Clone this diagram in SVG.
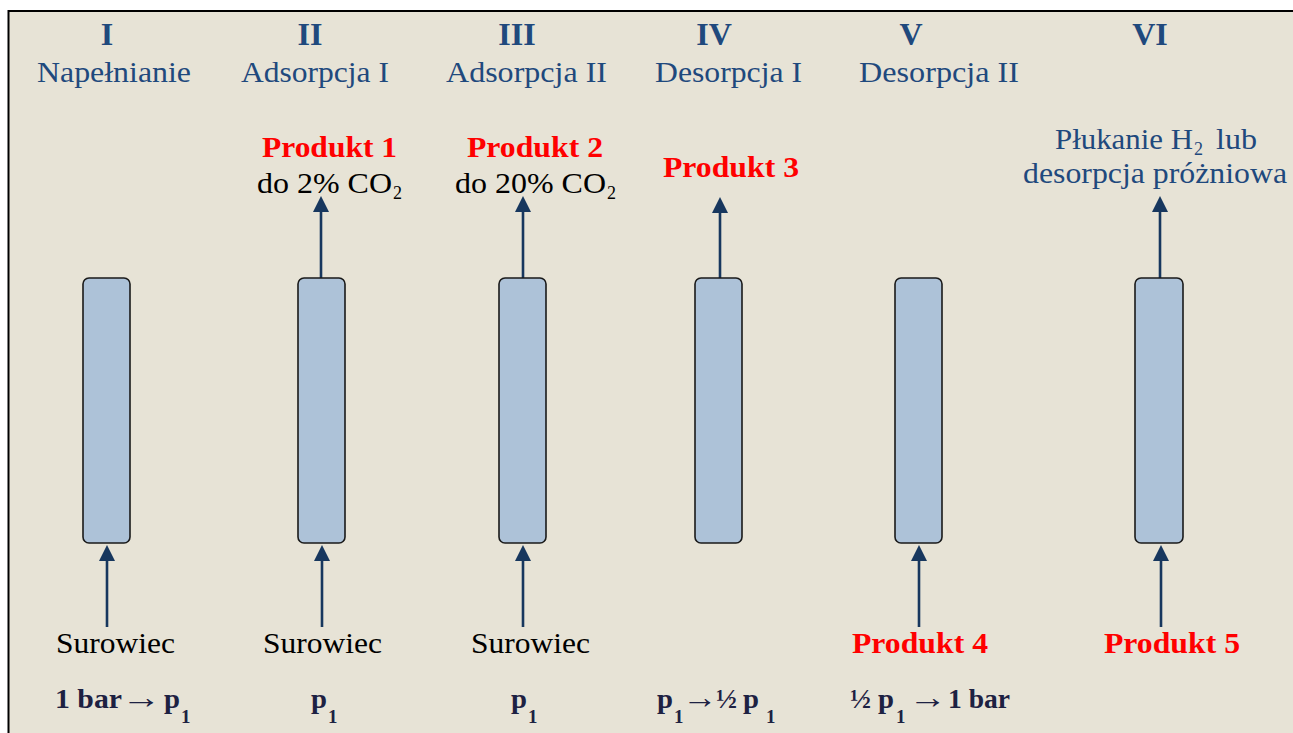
<svg xmlns="http://www.w3.org/2000/svg" width="1293" height="733" viewBox="0 0 1293 733" font-family="'Liberation Serif','Times New Roman',serif">
<style>
text{font-family:"Liberation Serif","Times New Roman",serif}
.num{font-size:32px;font-weight:bold;fill:#1F497D;text-anchor:middle}
.hd{font-size:29px;fill:#1F497D}
.red{font-size:30px;font-weight:bold;fill:#FF0000}
.blk{font-size:29px;fill:#000}
.blu{font-size:29px;fill:#1F497D}
.sub{font-size:18px}
.pr{font-size:27px;font-weight:bold;fill:#1D2142}
.prs{font-size:19px;font-weight:bold;fill:#1D2142}
.ar{font-size:32px;font-weight:bold;fill:#1D2142;text-anchor:middle}
.col{fill:#ADC2D8;stroke:#1a1a1a;stroke-width:1.6}
.arr{stroke:#17375E;stroke-width:2.6;fill:none;marker-end:url(#ah)}
</style>
<defs>
<marker id="ah" markerUnits="userSpaceOnUse" markerWidth="16" markerHeight="16" viewBox="0 0 15 15" refX="0" refY="7.5" orient="auto">
<path d="M0,0 L15,7.5 L0,15 z" fill="#17375E"/>
</marker>
</defs>
<rect x="0" y="0" width="1293" height="733" fill="#FFFFFF"/>
<rect x="8.5" y="11" width="1300" height="740" fill="#E7E3D6" stroke="#000" stroke-width="2"/>

<g id="connectors">
<line class="arr" x1="107" y1="627" x2="107" y2="561"/>
<line class="arr" x1="321" y1="278" x2="321" y2="212"/>
<line class="arr" x1="322" y1="627" x2="322" y2="561"/>
<line class="arr" x1="523" y1="278" x2="523" y2="212"/>
<line class="arr" x1="523" y1="627" x2="523" y2="561"/>
<line class="arr" x1="720" y1="278" x2="720" y2="213"/>
<line class="arr" x1="919" y1="627" x2="919" y2="561"/>
<line class="arr" x1="1160" y1="278" x2="1160" y2="212"/>
<line class="arr" x1="1161" y1="627" x2="1161" y2="561"/>
</g>

<g id="col1">
<text class="num" x="107" y="45">I</text>
<text class="hd" x="37" y="82" textLength="154" lengthAdjust="spacingAndGlyphs">Napełnianie</text>
<rect class="col" x="83" y="278" width="47" height="265" rx="6"/>
<text class="blk" x="56" y="653" textLength="119" lengthAdjust="spacingAndGlyphs">Surowiec</text>
<text class="pr" x="55" y="708" textLength="67" lengthAdjust="spacingAndGlyphs">1 bar</text>
<text class="ar" transform="translate(141,708) scale(1.25,1)">→</text>
<text class="pr" x="164" y="708" textLength="16" lengthAdjust="spacingAndGlyphs">p</text>
<text class="prs" x="181" y="723">1</text>
</g>

<g id="col2">
<text class="num" x="310" y="45">II</text>
<text class="hd" x="241" y="82" textLength="148" lengthAdjust="spacingAndGlyphs">Adsorpcja I</text>
<rect class="col" x="298" y="278" width="47" height="265" rx="6"/>
<text class="red" x="262" y="157" textLength="135" lengthAdjust="spacingAndGlyphs">Produkt 1</text>
<text class="blk" x="257" y="193" textLength="135" lengthAdjust="spacingAndGlyphs">do 2% CO</text>
<text class="blk sub" x="393" y="199">2</text>
<text class="blk" x="263" y="653" textLength="119" lengthAdjust="spacingAndGlyphs">Surowiec</text>
<text class="pr" x="311" y="708" textLength="16" lengthAdjust="spacingAndGlyphs">p</text>
<text class="prs" x="328" y="723">1</text>
</g>

<g id="col3">
<text class="num" x="517" y="45">III</text>
<text class="hd" x="446" y="82" textLength="161" lengthAdjust="spacingAndGlyphs">Adsorpcja II</text>
<rect class="col" x="499" y="278" width="47" height="265" rx="6"/>
<text class="red" x="467" y="157" textLength="136" lengthAdjust="spacingAndGlyphs">Produkt 2</text>
<text class="blk" x="455" y="193" textLength="151" lengthAdjust="spacingAndGlyphs">do 20% CO</text>
<text class="blk sub" x="607" y="199">2</text>
<text class="blk" x="471" y="653" textLength="119" lengthAdjust="spacingAndGlyphs">Surowiec</text>
<text class="pr" x="511" y="708" textLength="16" lengthAdjust="spacingAndGlyphs">p</text>
<text class="prs" x="528" y="723">1</text>
</g>

<g id="col4">
<text class="num" x="714" y="45">IV</text>
<text class="hd" x="655" y="82" textLength="147" lengthAdjust="spacingAndGlyphs">Desorpcja I</text>
<rect class="col" x="695" y="278" width="47" height="265" rx="6"/>
<text class="red" x="663" y="177" textLength="136" lengthAdjust="spacingAndGlyphs">Produkt 3</text>
<text class="pr" x="657" y="708" textLength="16" lengthAdjust="spacingAndGlyphs">p</text>
<text class="prs" x="674" y="723">1</text>
<text class="ar" transform="translate(700,708) scale(1.1,1)">→</text>
<text class="pr" x="716" y="708" textLength="21" lengthAdjust="spacingAndGlyphs">½</text>
<text class="pr" x="743" y="708" textLength="16" lengthAdjust="spacingAndGlyphs">p</text>
<text class="prs" x="766" y="723">1</text>
</g>

<g id="col5">
<text class="num" x="911" y="45">V</text>
<text class="hd" x="859" y="82" textLength="160" lengthAdjust="spacingAndGlyphs">Desorpcja II</text>
<rect class="col" x="895" y="278" width="47" height="265" rx="6"/>
<text class="red" x="852" y="653" textLength="136" lengthAdjust="spacingAndGlyphs">Produkt 4</text>
<text class="pr" x="850" y="708" textLength="21" lengthAdjust="spacingAndGlyphs">½</text>
<text class="pr" x="878" y="708" textLength="16" lengthAdjust="spacingAndGlyphs">p</text>
<text class="prs" x="896" y="723">1</text>
<text class="ar" transform="translate(928,708) scale(1.2,1)">→</text>
<text class="pr" x="948" y="708" textLength="62" lengthAdjust="spacingAndGlyphs">1 bar</text>
</g>

<g id="col6">
<text class="num" x="1150" y="45">VI</text>
<rect class="col" x="1135" y="278" width="48" height="265" rx="6"/>
<text class="blu" x="1055" y="149" textLength="138" lengthAdjust="spacingAndGlyphs">Płukanie H</text>
<text class="blu sub" x="1194" y="155">2</text>
<text class="blu" x="1216" y="149" textLength="41" lengthAdjust="spacingAndGlyphs">lub</text>
<text class="blu" x="1023" y="183" textLength="264" lengthAdjust="spacingAndGlyphs">desorpcja próżniowa</text>
<text class="red" x="1104" y="653" textLength="136" lengthAdjust="spacingAndGlyphs">Produkt 5</text>
</g>
</svg>
